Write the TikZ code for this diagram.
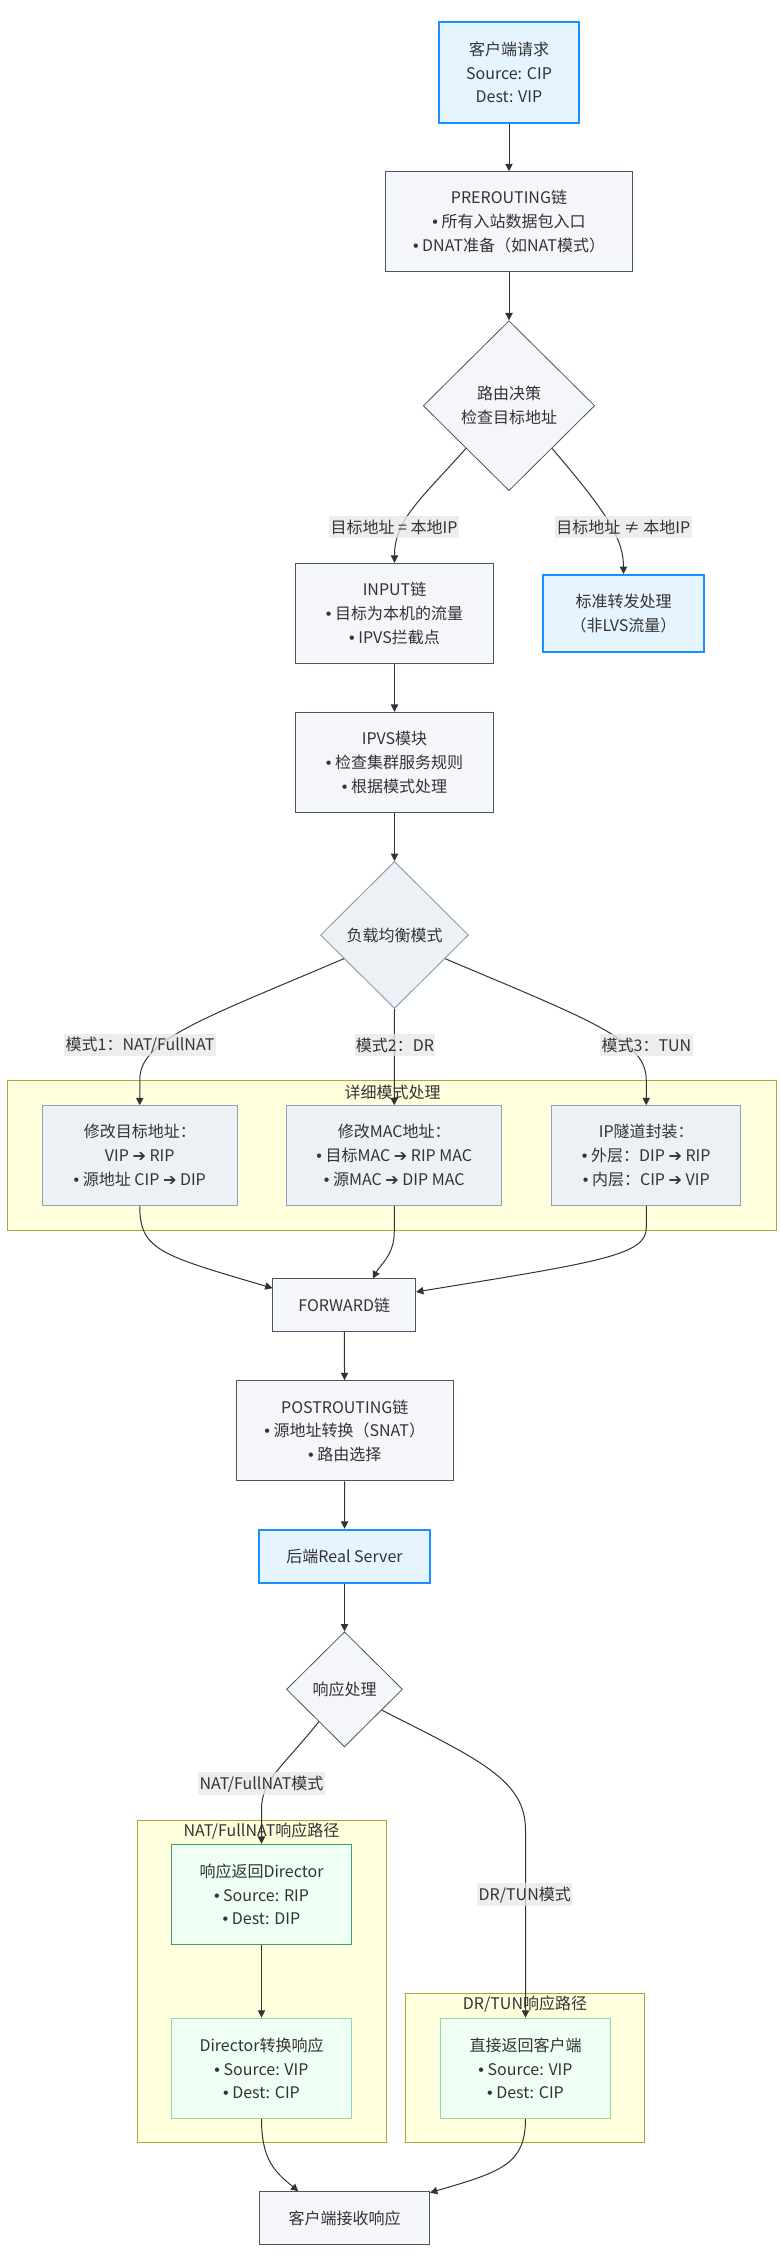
\documentclass[tikz,border=0pt]{standalone}
\usepackage{fontspec}
\setmainfont{Noto Sans CJK SC}
\newfontfamily\dvfont{DejaVu Sans}
\newfontfamily\lsfont{Liberation Sans}
\usetikzlibrary{shapes.geometric,arrows.meta,calc}
\newcommand{\rarr}{{\dvfont ➔}}
\newcommand{\bul}{{\lsfont •}}
\definecolor{txt}{HTML}{333333}
\definecolor{grayfill}{HTML}{F4F6F9}
\definecolor{grayline}{HTML}{4A5568}
\definecolor{modefill}{HTML}{ECF1F6}
\definecolor{modeline}{HTML}{8FA1B9}
\definecolor{bluefill}{HTML}{E6F4FF}
\definecolor{blueline}{HTML}{1890FF}
\definecolor{greenfill}{HTML}{F0FFF4}
\definecolor{greenline}{HTML}{38A169}
\definecolor{greenlinetwo}{HTML}{8FD6A8}
\definecolor{clusterfill}{HTML}{FFFFDE}
\definecolor{clusterline}{HTML}{AAAA33}
\definecolor{lblbg}{HTML}{E8E8E8}
\definecolor{edgecol}{HTML}{333333}
\tikzset{
  base/.style={font=\fontsize{12}{17.8}\selectfont, text=txt, align=center, inner sep=0pt},
  graybox/.style={base, rectangle, draw=grayline, fill=grayfill, line width=0.75pt},
  bluebox/.style={base, rectangle, draw=blueline, fill=bluefill, line width=1.5pt},
  modebox/.style={base, rectangle, draw=modeline, fill=modefill, line width=0.75pt},
  greenbox/.style={base, rectangle, draw=greenline, fill=greenfill, line width=0.75pt},
  greenboxtwo/.style={base, rectangle, draw=greenlinetwo, fill=greenfill, line width=1pt},
  decision/.style={base, diamond, aspect=1, draw=grayline, fill=grayfill, line width=0.6pt},
  decisionmode/.style={base, diamond, aspect=1, draw=modeline, fill=modefill, line width=0.75pt},
  elabel/.style={base, fill=lblbg, fill opacity=0.75, text opacity=1, inner xsep=1pt, minimum height=17pt},
  clusterbox/.style={draw=clusterline, fill=clusterfill, line width=0.75pt},
  ctitle/.style={base},
  edge/.style={draw=edgecol, line width=0.75pt, -{Triangle[length=5.5pt,width=5.5pt]}}
}
\begin{document}
\begin{tikzpicture}[x={(0.75pt,0)}, y={(0,-0.75pt)}]
\useasboundingbox (0,0) rectangle (779,2267);
\fill[white] (0,0) rectangle (779,2267);

% clusters
\draw[clusterbox] (7.5,1080.7) rectangle (776,1230);
\draw[clusterbox] (137,1820) rectangle (386,2142.3);
\draw[clusterbox] (405.5,1993.7) rectangle (644.5,2142.3);
\node[ctitle] (t1) at (392.5,1092.3) {详细模式处理};
\node[ctitle] (t2) at (261.5,1831) {NAT/FullNAT响应路径};
\node[ctitle] (t3) at (525,2004.3) {DR/TUN响应路径};

% nodes
\node[bluebox, minimum width=104.6pt, minimum height=75.3pt] (A) at (509,72.5) {客户端请求\\Source: CIP\\Dest: VIP};
\node[graybox, minimum width=185.3pt, minimum height=74.7pt] (B) at (509,221.5) {PREROUTING链\\\bul{} 所有入站数据包入口\\\bul{} DNAT准备（如NAT模式）};
\node[decision, minimum width=128.6pt, minimum height=127.5pt] (C) at (509,405.7) {路由决策\\检查目标地址};
\node[graybox, minimum width=148.5pt, minimum height=75pt] (D) at (394.5,613.3) {INPUT链\\\bul{} 目标为本机的流量\\\bul{} IPVS拦截点};
\node[bluebox, minimum width=120.8pt, minimum height=57.5pt] (E) at (623.5,613.3) {标准转发处理\\（非LVS流量）};
\node[graybox, minimum width=148.5pt, minimum height=75pt] (F) at (394.5,762.3) {IPVS模块\\\bul{} 检查集群服务规则\\\bul{} 根据模式处理};
\node[decisionmode, minimum width=111pt, minimum height=110.3pt] (G) at (394.5,935) {负载均衡模式};
\node[modebox, minimum width=145.9pt, minimum height=74.7pt] (H1) at (139.75,1155.5) {修改目标地址：\\VIP \rarr{} RIP\\\bul{} 源地址 CIP \rarr{} DIP};
\node[modebox, minimum width=161.6pt, minimum height=74.7pt] (H2) at (394.25,1155.5) {修改MAC地址：\\\bul{} 目标MAC \rarr{} RIP MAC\\\bul{} 源MAC \rarr{} DIP MAC};
\node[modebox, minimum width=142.1pt, minimum height=74.7pt] (H3) at (646.25,1155.5) {IP隧道封装：\\\bul{} 外层：DIP \rarr{} RIP\\\bul{} 内层：CIP \rarr{} VIP};
\node[graybox, minimum width=106.9pt, minimum height=39.5pt] (I) at (344.25,1305.3) {FORWARD链};
\node[graybox, minimum width=163.1pt, minimum height=75.2pt] (J) at (344.75,1430.8) {POSTROUTING链\\\bul{} 源地址转换（SNAT）\\\bul{} 路由选择};
\node[bluebox, minimum width=128.3pt, minimum height=40.2pt] (K) at (344.5,1556.5) {后端Real Server};
\node[decision, minimum width=87pt, minimum height=86.3pt] (L) at (344.5,1689.3) {响应处理};
\node[greenbox, minimum width=135pt, minimum height=75pt] (M1) at (261.5,1894.3) {响应返回Director\\\bul{} Source: RIP\\\bul{} Dest: DIP};
\node[greenboxtwo, minimum width=135pt, minimum height=75pt] (M2) at (261.5,2068.3) {Director转换响应\\\bul{} Source: VIP\\\bul{} Dest: CIP};
\node[greenboxtwo, minimum width=127.5pt, minimum height=75pt] (M3) at (525.5,2068.3) {直接返回客户端\\\bul{} Source: VIP\\\bul{} Dest: CIP};
\node[graybox, minimum width=127.5pt, minimum height=39.5pt] (N) at (344.5,2218) {客户端接收响应};

% edges
\draw[edge] (A) -- (B);
\draw[edge] (B) -- (C);
\draw[edge] (C.south west) .. controls (420,500) and (394.5,520) .. (D.north);
\draw[edge] (C.south east) .. controls (600,505) and (623.5,535) .. (E.north);
\draw[edge] (D) -- (F);
\draw[edge] (F) -- (G);
\draw[edge] ($(G.west)!0.32!(G.south)$) .. controls (200,1020) and (139.75,1040) .. (139.75,1080) -- (H1.north);
\draw[edge] (G.south) -- (H2.north);
\draw[edge] ($(G.east)!0.32!(G.south)$) .. controls (590,1020) and (646.25,1040) .. (646.25,1080) -- (H3.north);
\draw[edge] (H1.south) .. controls (139.75,1250) and (160,1255) .. ($(I.north west)!0.18!(I.south west)$);
\draw[edge] (H2.south) -- (394.25,1232) .. controls (394.25,1255) and (380,1265) .. ($(I.north west)!0.7!(I.north east)$);
\draw[edge] (H3.south) -- (646.25,1228) .. controls (646.25,1255) and (600,1262) .. ($(I.north east)!0.25!(I.south east)$);
\draw[edge] (I) -- (J);
\draw[edge] (J) -- (K);
\draw[edge] (K) -- (L);
\draw[edge] ($(L.west)!0.56!(L.south)$) .. controls (280,1770) and (261.5,1780) .. (261.5,1810) -- (M1.north);
\draw[edge] ($(L.east)!0.36!(L.south)$) .. controls (480,1760) and (525.5,1780) .. (525.5,1830) -- (M3.north);
\draw[edge] (M1) -- (M2);
\draw[edge] (M2.south) .. controls (261.5,2160) and (275,2172) .. ($(N.north west)!0.23!(N.north east)$);
\draw[edge] (M3.south) .. controls (525.5,2165) and (500,2172) .. ($(N.north east)+(0,1.5)$);

% edge labels
\node[elabel] (l1) at (394,527) {目标地址 = 本地IP};
\node[elabel] (l2) at (623.25,527) {目标地址 ≠ 本地IP};
\node[elabel] (l3) at (140,1045) {模式1：NAT/FullNAT};
\node[elabel] (l4) at (395,1045) {模式2：DR};
\node[elabel] (l5) at (646.5,1045) {模式3：TUN};
\node[elabel] (l6) at (261.5,1783.7) {NAT/FullNAT模式};
\node[elabel] (l7) at (524.75,1894.7) {DR/TUN模式};
\end{tikzpicture}
\end{document}
